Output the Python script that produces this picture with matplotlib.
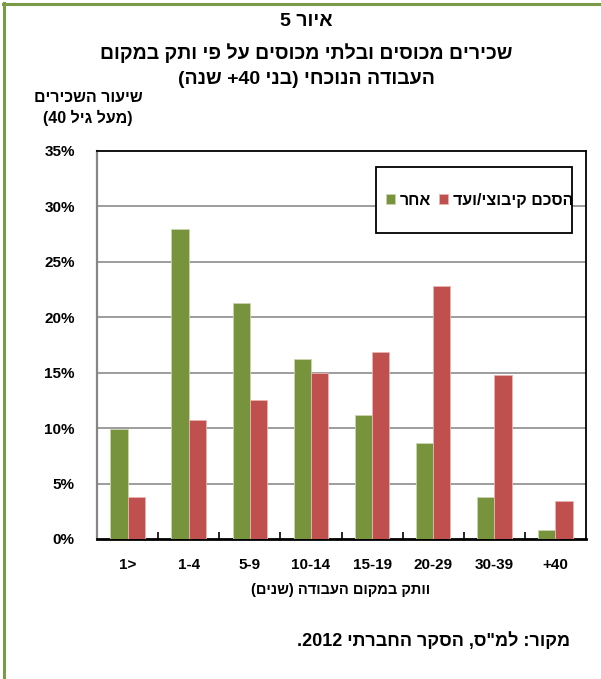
import re
import numpy as np
import matplotlib
matplotlib.use("Agg")
import matplotlib.pyplot as plt
from matplotlib.lines import Line2D
from matplotlib.patches import Rectangle
from matplotlib.ticker import FixedLocator

plt.rcParams['font.family'] = ['Liberation Sans', 'DejaVu Sans']
plt.rcParams['font.weight'] = 'bold'

# ---- data ----
categories = ["1>", "1-4", "5-9", "10-14", "15-19", "20-29", "30-39", "+40"]
other_vals = [9.9, 28.0, 21.3, 16.2, 11.2, 8.7, 3.8, 0.8]
agreement_vals = [3.8, 10.7, 12.5, 15.0, 16.9, 22.8, 14.8, 3.4]
series_names = ["אחר", "הסכם קיבוצי/ועד"]
yticks = [0, 5, 10, 15, 20, 25, 30, 35]

title_lines = ["איור 5", "שכירים מכוסים ובלתי מכוסים על פי ותק במקום", "העבודה הנוכחי (בני 40+ שנה)"]
ylabel_lines = ["שיעור השכירים", "(מעל גיל 40)"]
xlabel_text = "וותק במקום העבודה (שנים)"
source_text = "מקור: למ\"ס, הסקר החברתי 2012."

MIRROR = {'(': ')', ')': '(', '<': '>', '>': '<'}


def rtl(s):
    """Reorder a logical-order RTL string into visual (left-to-right) order."""
    tokens = re.findall(r'[0-9]+(?:[.,\-][0-9]+)*|.', s)
    out = []
    for t in reversed(tokens):
        if len(t) == 1:
            out.append(MIRROR.get(t, t))
        else:
            out.append(t)
    return ''.join(out)


GREEN = '#77933C'
RED = '#C0504D'
FRAME = '#7A9A48'

W, H = 601, 679
fig = plt.figure(figsize=(W / 100, H / 100), dpi=100)


def fx(px):
    return px / W


def fy(py):
    return 1 - py / H


# green frame (top and left)
fig.add_artist(Line2D([fx(4), fx(4)], [0, fy(3)], color=FRAME, lw=2.2,
                      transform=fig.transFigure))
fig.add_artist(Line2D([fx(3), 1], [fy(3.5), fy(3.5)], color=FRAME, lw=2.2,
                      transform=fig.transFigure))

ax = fig.add_axes([fx(97), fy(539), (586 - 97) / W, (539 - 151) / H])

x = np.arange(len(categories))
bw = 0.283
ax.bar(x - bw / 2, other_vals, bw, color=GREEN, edgecolor='#c9d6b0', linewidth=0.6,
       label=rtl(series_names[0]), zorder=3)
ax.bar(x + bw / 2, agreement_vals, bw, color=RED, edgecolor='#e8b5b3', linewidth=0.6,
       label=rtl(series_names[1]), zorder=3)

ax.set_xlim(-0.5, len(categories) - 0.5)
ax.set_ylim(0, 35)
ax.set_yticks(yticks)
ax.set_yticklabels([f"{v}%" for v in yticks], fontsize=11, fontweight='bold')
ax.set_xticks(x)
ax.set_xticklabels(categories, fontsize=11, fontweight='bold')
ax.tick_params(axis='x', which='major', length=0, pad=14)
ax.xaxis.set_minor_locator(FixedLocator(np.arange(0.5, len(categories) - 0.5, 1)))
ax.tick_params(axis='x', which='minor', direction='in', length=5, width=1.2, color='black')
ax.tick_params(axis='y', length=0, pad=16)

for v in yticks[1:-1]:
    ax.axhline(v, color='#8c8c8c', lw=1.2, zorder=1)

for side in ['top', 'right']:
    ax.spines[side].set_color('black')
    ax.spines[side].set_linewidth(1.3)
ax.spines['left'].set_color('#868686')
ax.spines['left'].set_linewidth(1.6)
ax.spines['bottom'].set_color('black')
ax.spines['bottom'].set_linewidth(2.0)

# legend box (white, black frame) and legend entries
box = Rectangle((fx(376), fy(232.5)), (572 - 376) / W, (232.5 - 166.5) / H,
                transform=fig.transFigure, facecolor='white', edgecolor='black',
                linewidth=1.3, zorder=5)
fig.add_artist(box)
leg = fig.legend(loc='center right', bbox_to_anchor=(fx(573), fy(200)),
                 ncol=2, frameon=False, prop={'weight': 'bold', 'size': 11.5},
                 handlelength=0.56, handleheight=0.56, handletextpad=0.3,
                 columnspacing=0.5, borderpad=0, borderaxespad=0)
leg.set_zorder(6)

# title
for txt, yy in zip(title_lines, [21, 53, 80]):
    fig.text(fx(306), fy(yy), rtl(txt), ha='center', va='center', fontsize=14,
             fontweight='bold')

# y label
fig.text(fx(88), fy(97), rtl(ylabel_lines[0]), ha='center', va='center', fontsize=11.5,
         fontweight='bold')
fig.text(fx(88), fy(118), rtl(ylabel_lines[1]), ha='center', va='center', fontsize=11.5,
         fontweight='bold')

# x label
fig.text(fx(341), fy(590), rtl(xlabel_text), ha='center', va='center', fontsize=10.5,
         fontweight='bold')

# source
fig.text(fx(570), fy(641), rtl(source_text), ha='right', va='center', fontsize=13,
         fontweight='bold')

fig.savefig('out.png', dpi=100)
